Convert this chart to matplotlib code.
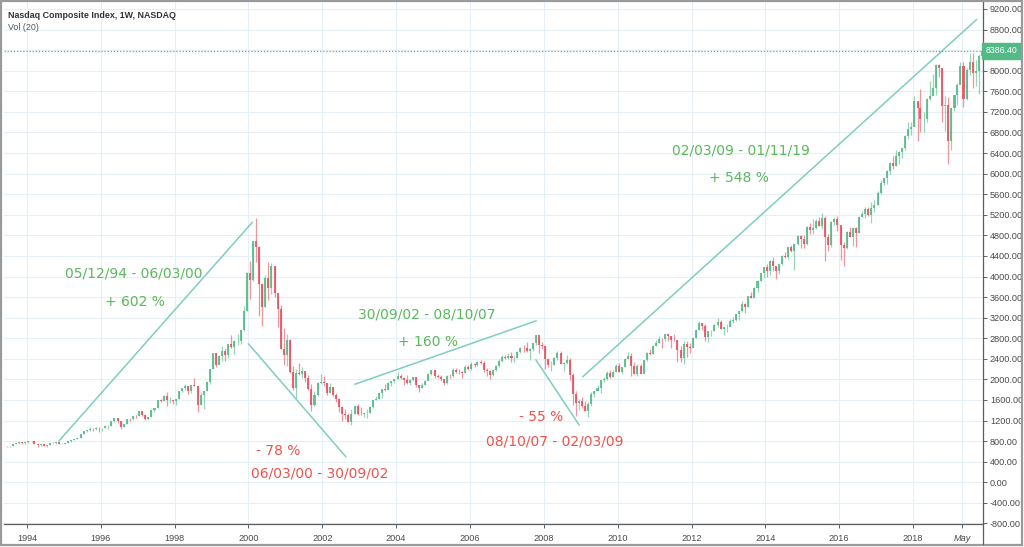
import matplotlib
matplotlib.use("Agg")
import matplotlib.pyplot as plt
import matplotlib.dates as mdates
import numpy as np
import pandas as pd
from matplotlib.patches import Rectangle
from matplotlib.ticker import FixedLocator, FuncFormatter

# monthly candles, Jun 1993 .. Nov 2019
FIRST_MONTH = "1993-06-01"
FIRST_OPEN = 700.5

CLOSES = [
    703.9, 704.7, 742.8, 762.8, 779.3, 754.4, 776.8,
    800.5, 793.0, 743.5, 733.8, 735.2, 706.0, 722.2, 765.6, 764.3, 777.5, 750.3, 752.0,
    755.2, 793.7, 817.2, 843.9, 864.6, 933.5, 1001.2, 1020.1, 1043.5, 1036.1, 1059.2, 1052.1,
    1059.8, 1100.1, 1101.4, 1190.5, 1243.4, 1185.0, 1080.6, 1141.5, 1226.9, 1221.5, 1292.6, 1291.0,
    1379.9, 1309.0, 1221.7, 1260.8, 1400.3, 1442.1, 1593.8, 1587.3, 1685.7, 1593.6, 1601.0, 1570.4,
    1619.4, 1771.0, 1835.7, 1868.4, 1778.9, 1894.7, 1872.4, 1499.3, 1693.8, 1771.4, 1949.5, 2192.7,
    2505.9, 2288.0, 2461.4, 2542.9, 2470.5, 2686.1, 2638.5, 2739.4, 2746.2, 2966.4, 3336.2, 4069.3,
    3940.4, 4696.7, 4572.8, 3860.7, 3400.9, 3966.1, 3767.0, 4206.4, 3672.8, 3369.6, 2597.9, 2470.5,
    2772.7, 2151.8, 1840.3, 2116.2, 2110.5, 2160.5, 2027.1, 1805.4, 1498.8, 1690.2, 1930.6, 1950.4,
    1934.0, 1731.5, 1845.4, 1688.2, 1615.7, 1463.2, 1328.3, 1314.9, 1172.1, 1329.8, 1478.8, 1335.5,
    1320.9, 1337.5, 1341.2, 1464.3, 1595.9, 1622.8, 1735.0, 1810.5, 1786.9, 1932.2, 1960.3, 2003.4,
    2066.2, 2029.8, 1994.2, 1920.2, 1986.7, 2047.8, 1887.4, 1838.1, 1896.8, 1975.0, 2096.8, 2175.4,
    2062.4, 2051.7, 1999.2, 1921.7, 2068.2, 2057.0, 2184.8, 2152.1, 2151.7, 2120.3, 2232.8, 2205.3,
    2305.8, 2281.4, 2339.8, 2322.6, 2178.9, 2172.1, 2091.5, 2183.8, 2258.4, 2366.7, 2431.8, 2415.3,
    2463.9, 2416.2, 2421.6, 2525.1, 2604.5, 2603.2, 2546.3, 2596.4, 2701.5, 2859.1, 2661.0, 2652.3,
    2389.9, 2271.5, 2279.1, 2412.8, 2522.7, 2293.0, 2325.6, 2367.5, 2091.9, 1721.0, 1535.6, 1577.0,
    1476.4, 1377.8, 1528.6, 1717.3, 1774.3, 1835.0, 1978.5, 2009.1, 2122.4, 2045.1, 2144.6, 2269.2,
    2147.4, 2238.3, 2398.0, 2461.2, 2257.0, 2109.2, 2254.7, 2114.0, 2368.6, 2507.4, 2498.2, 2652.9,
    2700.1, 2782.3, 2781.1, 2873.5, 2835.3, 2773.5, 2756.4, 2579.5, 2415.4, 2684.4, 2620.3, 2605.2,
    2813.8, 2966.9, 3091.6, 3046.4, 2827.3, 2935.1, 2939.5, 3067.0, 3116.2, 2977.2, 3010.2, 3019.5,
    3142.1, 3160.2, 3267.5, 3328.8, 3455.9, 3403.3, 3626.4, 3589.9, 3771.5, 3919.7, 4059.9, 4176.6,
    4103.9, 4308.1, 4199.0, 4114.6, 4242.6, 4408.2, 4369.8, 4580.3, 4493.4, 4630.7, 4791.6, 4736.1,
    4635.2, 4963.5, 4900.9, 4941.4, 5070.0, 4986.9, 5128.3, 4776.5, 4620.2, 5053.8, 5108.7, 5007.4,
    4614.0, 4558.0, 4869.9, 4775.4, 4948.1, 4842.7, 5162.1, 5213.2, 5312.0, 5189.1, 5323.7, 5383.1,
    5614.8, 5825.4, 5911.7, 6047.6, 6198.5, 6140.4, 6348.1, 6428.7, 6496.0, 6727.7, 6874.0, 6903.4,
    7411.5, 7273.0, 7063.4, 7066.3, 7442.1, 7510.3, 7671.8, 8109.5, 8046.4, 7305.9, 7330.5, 6635.3,
    7281.7, 7532.5, 7729.3, 8095.4, 7453.2, 8006.2, 8175.4, 7962.9, 7999.3, 8292.4, 8386.4,
]

HIGHS = [
    712, 712, 743, 763, 787, 781, 778,
    803, 804, 797, 746, 739, 744, 725, 766, 775, 781, 781, 756,
    762, 794, 818, 844, 866, 934, 1006, 1024, 1068, 1049, 1070, 1070,
    1060, 1120, 1110, 1191, 1249, 1250, 1190, 1142, 1227, 1249, 1293, 1316,
    1380, 1390, 1330, 1270, 1412, 1453, 1594, 1627, 1697, 1746, 1660, 1603,
    1625, 1771, 1841, 1903, 1874, 1898, 2028, 1876, 1755, 1774, 1963, 2193,
    2509, 2522, 2478, 2653, 2608, 2687, 2864, 2757, 2887, 2967, 3421, 4091,
    4303, 4697, 5132, 4595, 3870, 4033, 4290, 4259, 4211, 3647, 3452, 2994,
    2892, 2782, 2260, 2199, 2314, 2238, 2150, 2082, 1910, 1766, 1942, 2098,
    2059, 1932, 1928, 1856, 1744, 1637, 1484, 1427, 1347, 1420, 1492, 1521,
    1467, 1375, 1425, 1474, 1603, 1686, 1750, 1813, 1915, 1944, 1977, 2010,
    2153, 2098, 2056, 2080, 2005, 2050, 2055, 1893, 1921, 1994, 2117, 2185,
    2191, 2096, 2090, 2008, 2095, 2103, 2220, 2219, 2200, 2156, 2274, 2278,
    2333, 2310, 2353, 2375, 2355, 2215, 2180, 2193, 2273, 2390, 2470, 2469,
    2509, 2532, 2454, 2559, 2627, 2660, 2724, 2608, 2716, 2861, 2797, 2724,
    2661, 2419, 2352, 2427, 2551, 2550, 2341, 2473, 2416, 2115, 1780, 1620,
    1665, 1588, 1552, 1746, 1784, 1885, 1986, 2040, 2168, 2190, 2192, 2295,
    2327, 2250, 2423, 2535, 2518, 2345, 2300, 2300, 2381, 2540, 2593, 2672,
    2765, 2841, 2798, 2888, 2888, 2835, 2888, 2766, 2651, 2754, 2744, 2702,
    2815, 2978, 3134, 3099, 3078, 2937, 2967, 3083, 3197, 3156, 3021, 3077,
    3168, 3213, 3270, 3330, 3533, 3489, 3627, 3694, 3799, 3940, 4069, 4178,
    4246, 4325, 4371, 4206, 4248, 4409, 4485, 4580, 4610, 4641, 4810, 4815,
    4815, 4975, 5042, 5119, 5111, 5164, 5232, 5176, 4834, 5086, 5156, 5176,
    4981, 4661, 4888, 4970, 4958, 4960, 5176, 5272, 5342, 5345, 5451, 5487,
    5669, 5867, 5928, 6075, 6221, 6341, 6460, 6445, 6497, 6749, 7004, 7003,
    7506, 7385, 7637, 7203, 7462, 7806, 7933, 8133, 8133, 8049, 7500, 7487,
    7288, 7536, 7757, 8176, 8165, 8058, 8340, 8339, 8204, 8328, 8387,
]

LOWS = [
    684, 691, 703, 735, 752, 741, 752,
    767, 781, 738, 691, 704, 704, 693, 722, 756, 753, 740, 736,
    740, 757, 790, 816, 836, 864, 931, 985, 1006, 989, 1020, 982,
    988, 1054, 1034, 1095, 1165, 1154, 1042, 1079, 1138, 1186, 1206, 1255,
    1291, 1290, 1217, 1201, 1266, 1375, 1444, 1552, 1587, 1474, 1544, 1520,
    1505, 1610, 1746, 1787, 1725, 1739, 1865, 1358, 1507, 1420, 1776, 1918,
    2208, 2242, 2290, 2367, 2360, 2411, 2605, 2501, 2673, 2685, 2948, 3335,
    3558, 3906, 4283, 3227, 3042, 3398, 3540, 3652, 3592, 3027, 2597, 2288,
    2252, 2125, 1794, 1619, 2078, 2036, 1940, 1795, 1387, 1482, 1683, 1904,
    1869, 1696, 1740, 1677, 1556, 1369, 1192, 1238, 1172, 1108, 1320, 1314,
    1315, 1272, 1253, 1338, 1446, 1590, 1617, 1640, 1776, 1787, 1881, 1923,
    1999, 2009, 1896, 1917, 1885, 1978, 1858, 1750, 1841, 1883, 1984, 2080,
    2030, 2024, 1969, 1890, 1905, 2034, 2050, 2133, 2098, 2026, 2117, 2187,
    2189, 2242, 2254, 2297, 2135, 2065, 2012, 2067, 2160, 2243, 2336, 2399,
    2389, 2331, 2340, 2412, 2508, 2528, 2538, 2386, 2552, 2674, 2521, 2583,
    2202, 2238, 2155, 2275, 2380, 2290, 2167, 2303, 1983, 1493, 1295, 1398,
    1440, 1377, 1265, 1490, 1656, 1791, 1727, 1948, 1980, 2024, 2043, 2140,
    2142, 2100, 2242, 2388, 2061, 2102, 2061, 2099, 2117, 2363, 2481, 2497,
    2653, 2710, 2603, 2749, 2750, 2613, 2750, 2332, 2335, 2298, 2442, 2508,
    2625, 2805, 2955, 2957, 2747, 2726, 2843, 2935, 3026, 2975, 2854, 2915,
    3041, 3105, 3136, 3154, 3302, 3294, 3402, 3579, 3590, 3692, 3907, 3968,
    3996, 4026, 4108, 3946, 4051, 4233, 4352, 4342, 4471, 4117, 4603, 4547,
    4563, 4617, 4827, 4825, 4926, 4984, 4920, 4292, 4487, 4568, 5000, 4886,
    4313, 4210, 4534, 4766, 4597, 4574, 4842, 5157, 5139, 5172, 5035, 5258,
    5398, 5607, 5769, 5805, 6002, 6081, 6150, 6178, 6304, 6462, 6674, 6752,
    6924, 6631, 6805, 6806, 7010, 7432, 7534, 7526, 7876, 7004, 6830, 6191,
    6457, 7225, 7331, 7734, 7292, 7434, 7917, 7662, 7700, 7551, 8330,
]

LAST_PRICE = 8386.40

# trend lines: (start date, start value, end date, end value)
TREND_LINES = [
    ("1994-11-15", 809, "2000-02-06", 5050),
    ("2000-01-01", 2690, "2002-08-20", 498),
    ("2002-11-20", 1906, "2007-10-15", 3137),
    ("2007-10-15", 2379, "2008-12-15", 1115),
    ("2009-01-22", 2054, "2019-09-20", 8993),
]

# annotations: (text, date, value, colour)
GREEN = "#5cb85c"
RED = "#f0524d"
LABELS = [
    ("05/12/94 - 06/03/00", "1996-11-25", 4052, GREEN),
    ("+ 602 %", "1996-12-05", 3508, GREEN),
    ("- 78 %", "2000-10-24", 609, RED),
    ("06/03/00 - 30/09/02", "2001-12-10", 161, RED),
    ("30/09/02 - 08/10/07", "2004-11-02", 3254, GREEN),
    ("+ 160 %", "2004-11-14", 2729, GREEN),
    ("- 55 %", "2007-12-01", 1270, RED),
    ("08/10/07 - 02/03/09", "2008-04-20", 784, RED),
    ("02/03/09 - 01/11/19", "2013-05-05", 6444, GREEN),
    ("+ 548 %", "2013-04-15", 5919, GREEN),
]

YEAR_TICKS = list(range(1994, 2019, 2))

UP = "#53b987"
DOWN = "#eb4d5c"
TREND = "#7fcdc0"
GRID = "#e6eff6"
TEXT = "#4a4a4a"

plt.rcParams["font.family"] = ["DejaVu Sans"]

fig = plt.figure(figsize=(10.24, 5.47), dpi=100)
ax = fig.add_axes([4 / 1024, 23 / 547, 979 / 1024, 522 / 547])

dates = pd.date_range(FIRST_MONTH, periods=len(CLOSES), freq="MS") + pd.Timedelta(days=14)
xs = mdates.date2num(dates.to_pydatetime())
closes = np.array(CLOSES)
opens = np.concatenate([[FIRST_OPEN], closes[:-1]])
highs = np.array(HIGHS, dtype=float)
lows = np.array(LOWS, dtype=float)
rising = closes >= opens
colors = np.where(rising, UP, DOWN)

ax.vlines(xs, lows, highs, colors=colors, linewidth=0.9, alpha=0.6, zorder=3)
ax.bar(xs, np.abs(closes - opens), bottom=np.minimum(opens, closes), width=20,
       color=colors, linewidth=0, alpha=0.85, zorder=4)

for d0, v0, d1, v1 in TREND_LINES:
    ax.plot(pd.to_datetime([d0, d1]), [v0, v1], color=TREND, linewidth=1.1, zorder=5)

for text, day, value, colour in LABELS:
    ax.text(pd.Timestamp(day), value, text, color=colour, fontsize=10,
            ha="center", va="center", zorder=6)

ax.axhline(LAST_PRICE, color=UP, linestyle=(0, (1, 1.5)), linewidth=0.9, zorder=5)
ax.text(1.003, LAST_PRICE, f"{LAST_PRICE:.2f}", transform=ax.get_yaxis_transform(),
        color="white", fontsize=6.3, family="Liberation Sans", ha="left", va="center",
        zorder=7, bbox=dict(boxstyle="square,pad=0.4", facecolor=UP, edgecolor=UP),
        clip_on=False)

ax.set_xlim(pd.Timestamp("1993-05-18"), pd.Timestamp("2019-11-24"))
ax.set_ylim(-811, 9336)


def price_label(v, _):
    # the last-price badge covers the 8400 label
    if abs(v - 8400) < 1:
        return ""
    return f"{v:.2f}".replace("\u2212", "-")


ax.yaxis.tick_right()
ax.yaxis.set_major_locator(FixedLocator(np.arange(-800, 9201, 400)))
ax.yaxis.set_major_formatter(FuncFormatter(price_label))

tick_dates = [pd.Timestamp(f"{y}-01-01") for y in YEAR_TICKS] + [pd.Timestamp("2019-05-01")]
ax.set_xticks(mdates.date2num([t.to_pydatetime() for t in tick_dates]))
ax.set_xticklabels([str(y) for y in YEAR_TICKS] + ["May"])
ax.get_xticklabels()[-1].set_fontstyle("italic")

ax.tick_params(axis="both", labelsize=6.6, colors=TEXT, length=3, width=0.6)
ax.tick_params(axis="x", pad=4)
ax.tick_params(axis="y", pad=2)
for lbl in ax.get_xticklabels() + ax.get_yticklabels():
    lbl.set_family("Liberation Sans")
ax.grid(True, color=GRID, linewidth=0.8, zorder=0)
ax.set_axisbelow(True)

for side in ("top", "left"):
    ax.spines[side].set_visible(False)
for side in ("right", "bottom"):
    ax.spines[side].set_color("#5d5d5d")
    ax.spines[side].set_linewidth(0.9)

fig.text(8 / 1024, 1 - 15 / 547, "Nasdaq Composite Index, 1W, NASDAQ",
         fontsize=6.4, color="#333333", fontweight="bold", family="Liberation Sans",
         va="center")
fig.text(8 / 1024, 1 - 28 / 547, "Vol (20)", fontsize=6.4, color="#555555",
         family="Liberation Sans", va="center")

# outer frame of the screenshot, plus the bottom edge of the date strip
fig.patches.append(Rectangle((0.001, 0.004), 0.997, 0.994, transform=fig.transFigure,
                             fill=False, edgecolor="#9a9a9a", linewidth=1.6))
fig.add_artist(plt.Line2D([983 / 1024, 983 / 1024], [3 / 547, 23 / 547],
                          transform=fig.transFigure, color="#5d5d5d", linewidth=0.9))

fig.savefig("out.png", dpi=100)
